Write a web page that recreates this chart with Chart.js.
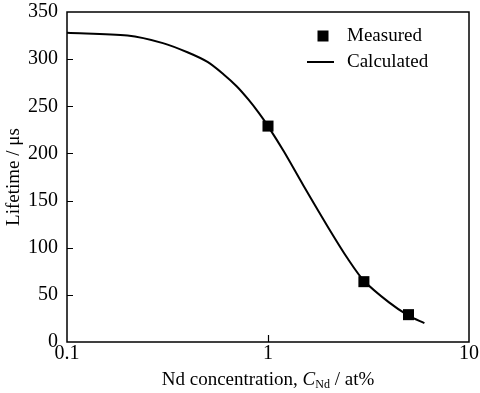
<!DOCTYPE html>
<html>
<head>
<meta charset="utf-8">
<script src="https://cdn.jsdelivr.net/npm/chart.js@4/dist/chart.umd.min.js"></script>
<style>
    html, body { margin: 0; padding: 0; background: #fff; }
    #wrap { width: 480px; height: 393px; }
</style>
</head>
<body>
<div id="wrap"><canvas id="chart" width="480" height="393"></canvas></div>
<script>
var calcConc = [0.1, 0.2, 0.3, 0.4, 0.5, 0.6, 0.7, 0.8, 0.9, 1, 1.2, 1.5, 2, 2.5, 3, 4, 5, 6];
var calcLife = [328, 325, 317, 307, 297, 284, 271, 257, 243, 229, 202, 166, 121, 88, 65, 42, 28, 20];

var measConc = [1, 3, 5];
var measLife = [229, 64, 29];

var xTicks = [0.1, 1, 10];
var yTicks = [0, 50, 100, 150, 200, 250, 300, 350];

(function(global){
    "use strict";

    var SERIF = "'Liberation Serif', 'Times New Roman', serif";

    var toPoints = function(xs, ys) {
        var pts = [];
        for(var i = 0; i < xs.length; i++) {
            pts.push({x: xs[i], y: ys[i]});
        }
        return pts;
    };

    // box, inward ticks, x title with subscript and the legend
    var framePlugin = {
        id: "frame",
        afterDraw: function(chart) {
            var ctx = chart.ctx;
            var area = chart.chartArea;
            var xs = chart.scales.x;
            var ys = chart.scales.y;
            var i, p;

            ctx.save();
            ctx.strokeStyle = "#000";
            ctx.lineWidth = 1.5;
            ctx.strokeRect(area.left, area.top, area.right - area.left, area.bottom - area.top);

            ctx.lineWidth = 1.2;
            ctx.beginPath();
            for(i = 1; i < yTicks.length - 1; i++) {
                p = Math.round(ys.getPixelForValue(yTicks[i])) + 0.5;
                ctx.moveTo(area.left, p);
                ctx.lineTo(area.left + 6, p);
            }
            for(i = 1; i < xTicks.length - 1; i++) {
                p = Math.round(xs.getPixelForValue(xTicks[i])) + 0.5;
                ctx.moveTo(p, area.bottom);
                ctx.lineTo(p, area.bottom - 7);
            }
            ctx.stroke();

            // x title: Nd concentration, C_Nd / at%
            var parts = [
                {t: "Nd concentration, ", f: "19px " + SERIF, dy: 0},
                {t: "C", f: "italic 19px " + SERIF, dy: 0},
                {t: "Nd", f: "12px " + SERIF, dy: 3},
                {t: " / at%", f: "19px " + SERIF, dy: 0}
            ];
            var total = 0;
            for(i = 0; i < parts.length; i++) {
                ctx.font = parts[i].f;
                parts[i].w = ctx.measureText(parts[i].t).width;
                total += parts[i].w;
            }
            var tx = (area.left + area.right) / 2 - total / 2;
            ctx.fillStyle = "#000";
            ctx.textBaseline = "alphabetic";
            ctx.textAlign = "left";
            for(i = 0; i < parts.length; i++) {
                ctx.font = parts[i].f;
                ctx.fillText(parts[i].t, tx, 385 + parts[i].dy);
                tx += parts[i].w;
            }

            // legend
            var lx = area.right - 146;
            ctx.fillRect(lx - 5.5, area.top + 24 - 5.5, 11, 11);
            ctx.lineWidth = 2;
            ctx.beginPath();
            ctx.moveTo(area.right - 162, area.top + 50);
            ctx.lineTo(area.right - 135, area.top + 50);
            ctx.stroke();
            ctx.font = "19px " + SERIF;
            ctx.textBaseline = "middle";
            ctx.fillText("Measured", area.right - 122, area.top + 24);
            ctx.fillText("Calculated", area.right - 122, area.top + 50);
            ctx.restore();
        }
    };

    var ctx = document.getElementById("chart").getContext("2d");

    global.lifetimeChart = new Chart(ctx, {
        type: "scatter",
        data: {
            datasets: [
                {
                    label: "Calculated",
                    data: toPoints(calcConc, calcLife),
                    showLine: true,
                    borderColor: "#000",
                    borderWidth: 2,
                    pointRadius: 0,
                    tension: 0.3,
                    order: 2
                },
                {
                    label: "Measured",
                    data: toPoints(measConc, measLife),
                    pointStyle: "rect",
                    pointRadius: 7.8,
                    pointBorderWidth: 0,
                    backgroundColor: "#000",
                    borderColor: "#000",
                    order: 1
                }
            ]
        },
        options: {
            responsive: false,
            animation: false,
            layout: {
                padding: {top: 12, right: 11, left: 0, bottom: 0}
            },
            plugins: {
                legend: {display: false},
                tooltip: {enabled: false}
            },
            scales: {
                x: {
                    type: "logarithmic",
                    min: 0.1,
                    max: 10,
                    afterBuildTicks: function(scale) {
                        scale.ticks = xTicks.map(function(v){ return {value: v}; });
                    },
                    afterFit: function(scale) {
                        scale.height = 51;
                    },
                    ticks: {
                        color: "#000",
                        font: {family: SERIF, size: 20},
                        padding: 0,
                        maxRotation: 0,
                        autoSkip: false,
                        callback: function(v) {
                            return String(v);
                        }
                    },
                    grid: {display: false, drawTicks: false},
                    border: {display: false}
                },
                y: {
                    min: 0,
                    max: 350,
                    afterBuildTicks: function(scale) {
                        scale.ticks = yTicks.map(function(v){ return {value: v}; });
                    },
                    afterFit: function(scale) {
                        scale.width = 67;
                        scale.paddingTop = 0;
                        scale.paddingBottom = 0;
                    },
                    ticks: {
                        color: "#000",
                        font: {family: SERIF, size: 20},
                        padding: 9
                    },
                    grid: {display: false, drawTicks: false},
                    border: {display: false},
                    title: {
                        display: true,
                        text: "Lifetime / \u03bcs",
                        color: "#000",
                        font: {family: SERIF, size: 19},
                        padding: {top: 3, bottom: 0}
                    }
                }
            }
        },
        plugins: [framePlugin]
    });

})(window);
</script>
</body>
</html>
